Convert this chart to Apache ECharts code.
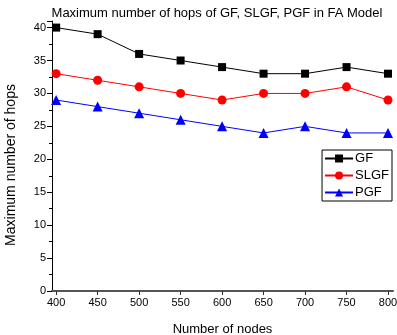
<!DOCTYPE html>
<html>
<head>
<meta charset="utf-8">
<script src="https://cdn.jsdelivr.net/npm/echarts@6/dist/echarts.min.js"></script>
<style>
  html, body { margin: 0; padding: 0; background: #fff; }
  #chart { width: 397px; height: 335px; }
</style>
</head>
<body>
<div id="chart"></div>
<script>
const nodes = [400, 450, 500, 550, 600, 650, 700, 750, 800];
const gf = [40, 39, 36, 35, 34, 33, 33, 34, 33];
const slgf = [33, 32, 31, 30, 29, 30, 30, 31, 29];
const pgf = [29, 28, 27, 26, 25, 24, 25, 24, 24];
const xTicks = [400, 450, 500, 550, 600, 650, 700, 750, 800];

const font = "Liberation Sans, Arial, sans-serif";
const pair = (vals) => nodes.map((n, i) => [n, vals[i]]);

const chart = echarts.init(document.getElementById("chart"));
chart.setOption({
  animation: false,
  title: {
    text: "Maximum number of hops of GF, SLGF, PGF in FA Model",
    left: 212,
    textAlign: "center",
    top: 2,
    textStyle: { fontFamily: font, fontSize: 13, fontWeight: "normal", color: "#000" }
  },
  grid: { left: 52, right: 4, top: 21, bottom: 44, outerBoundsMode: "none", containLabel: false },
  legend: {
    orient: "vertical",
    right: 5,
    top: 150,
    itemGap: 4,
    itemWidth: 28,
    itemHeight: 10,
    padding: [2, 3, 2, 2],
    borderColor: "#000",
    borderWidth: 1,
    borderRadius: 0,
    textStyle: { fontFamily: font, fontSize: 13, color: "#000", padding: [0, 0, 0, -3] },
    data: ["GF", "SLGF", "PGF"]
  },
  xAxis: {
    type: "value",
    min: 395,
    max: 806,
    name: "Number of nodes",
    nameLocation: "middle",
    nameGap: 32,
    nameTextStyle: { fontFamily: font, fontSize: 13, color: "#000" },
    splitLine: { show: false },
    axisLine: { lineStyle: { color: "#555", width: 2 } },
    axisTick: { customValues: xTicks, length: 4, lineStyle: { color: "#333" } },
    axisLabel: { customValues: xTicks, fontFamily: font, fontSize: 11, color: "#000", margin: 6 }
  },
  yAxis: {
    type: "value",
    min: 0,
    max: 41,
    interval: 5,
    name: "Maximum number of hops",
    nameLocation: "middle",
    nameGap: 34,
    nameTextStyle: { fontFamily: font, fontSize: 14, color: "#000", padding: [0, 18, 0, 0] },
    splitLine: { show: false },
    axisLine: { lineStyle: { color: "#000", width: 1 } },
    axisTick: { length: 5, lineStyle: { color: "#000" } },
    minorTick: { show: true, splitNumber: 2, length: 3, lineStyle: { color: "#000" } },
    axisLabel: {
      fontFamily: font, fontSize: 11, color: "#000", margin: 6,
      showMaxLabel: false
    }
  },
  series: [
    {
      name: "GF", type: "line", data: pair(gf),
      symbol: "rect", symbolSize: 8,
      itemStyle: { color: "#000" }, lineStyle: { color: "#000", width: 1 }
    },
    {
      name: "SLGF", type: "line", data: pair(slgf),
      symbol: "circle", symbolSize: 9,
      itemStyle: { color: "#ff0000" }, lineStyle: { color: "#ff0000", width: 1 }
    },
    {
      name: "PGF", type: "line", data: pair(pgf),
      symbol: "triangle", symbolSize: 10,
      itemStyle: { color: "#0000ff" }, lineStyle: { color: "#0000ff", width: 1 }
    }
  ]
});
</script>
</body>
</html>
